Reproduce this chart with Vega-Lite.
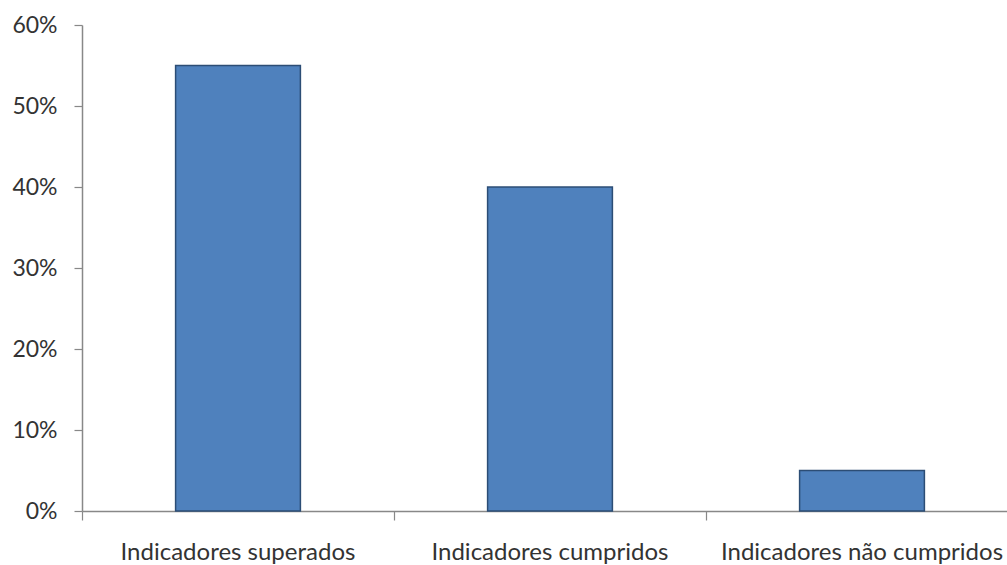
{
  "$schema": "https://vega.github.io/schema/vega-lite/v6.json",
  "autosize": "none",
  "width": 936,
  "height": 486,
  "padding": {"left": 82, "top": 25, "right": 0, "bottom": 54},
  "background": "white",
  "data": {"values": [
    {"categoria": "Indicadores superados", "valor": 0.55},
    {"categoria": "Indicadores cumpridos", "valor": 0.40},
    {"categoria": "Indicadores não cumpridos", "valor": 0.05}
  ]},
  "config": {"view": {"stroke": null}},
  "mark": {"type": "bar", "color": "#4F81BD", "stroke": "#2C4D75", "strokeWidth": 1.5},
  "encoding": {
    "x": {
      "field": "categoria", "type": "nominal", "sort": null,
      "scale": {"paddingInner": 0.6, "paddingOuter": 0.3},
      "axis": {"title": null, "labelAngle": 0, "bandPosition": -0.75, "labelFont": "Lato", "labelFontSize": 24, "labelColor": "#333333", "labelPadding": 20, "labelLimit": 0, "tickSize": 9, "tickColor": "#888888", "domainColor": "#888888", "domainWidth": 1.5, "tickWidth": 1.2, "labelBound": false, "labelOverlap": false}
    },
    "y": {
      "field": "valor", "type": "quantitative",
      "scale": {"domain": [0, 0.6]},
      "axis": {"title": null, "format": ".0%", "values": [0, 0.1, 0.2, 0.3, 0.4, 0.5, 0.6], "grid": false, "labelFont": "Lato", "labelFontSize": 23, "labelColor": "#333333", "labelPadding": 17, "tickSize": 8, "tickColor": "#888888", "domainColor": "#888888", "domainWidth": 1.5, "tickWidth": 1.2}
    }
  }
}
